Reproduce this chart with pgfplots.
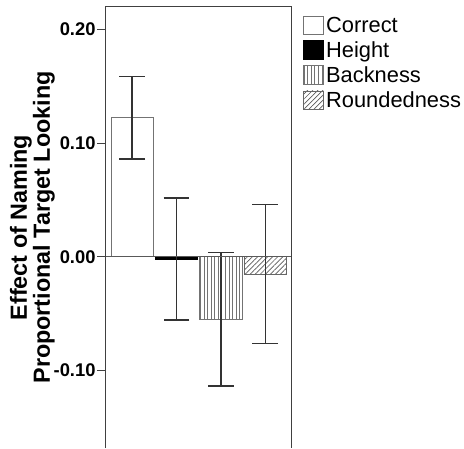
\documentclass[border=0pt]{standalone}
\usepackage{pgfplots}
\pgfplotsset{compat=1.18}
\usepackage{fontspec}
\setmainfont{Liberation Sans}
\usetikzlibrary{patterns.meta}
\pgfplotsset{
  myerr/.style={
    error bars/y dir=both, error bars/y explicit,
    error bars/error bar style={line width=1.4pt, black!80},
    error bars/error mark options={rotate=90, mark size=13pt, line width=1.4pt, black!80},
  }
}
\begin{document}
\begin{tikzpicture}
\begin{axis}[
  name=ax,
  anchor=south west, at={(0pt,0pt)},
  scale only axis, width=186.6pt, height=444pt,
  xmin=-0.59, xmax=3.59, ymin=-0.168, ymax=0.2195,
  axis line style={draw=none},
  clip=false,
  xtick=\empty,
  ytick={-0.1,0,0.1,0.2},
  ytick pos=left, tick align=outside, major tick length=9pt,
  tick style={black!75, line width=0.9pt},
  /pgf/number format/assume math mode=true,
  yticklabel style={font=\fontsize{18.5}{20}\selectfont\bfseries, xshift=2pt, /pgf/number format/.cd, fixed, fixed zerofill, precision=2},
  ylabel={Effect of Naming\\Proportional Target Looking},
  ylabel style={align=center, font=\fontsize{23.5}{23}\selectfont\bfseries, yshift=-8pt},
  ybar, bar width=42.5pt,
  legend style={at={(1,1)}, anchor=north west, xshift=11pt, yshift=-7pt, draw=none, fill=none,
    font=\fontsize{22}{22}\selectfont, row sep=3.8pt, inner sep=1pt},
  legend cell align=left,
]
\addplot[bar shift=0pt, draw=black!55, line width=0.8pt, fill=white, myerr,
  legend image code/.code={\draw[draw=black!55,line width=0.8pt,fill=white] (0pt,-9.5pt) rectangle (20pt,9.5pt);}]
  coordinates {(0,0.1223) +- (0,0.0363)};
\addlegendentry{Correct}
\addplot[bar shift=0pt, draw=black, line width=0.8pt, fill=black, myerr,
  legend image code/.code={\draw[draw=black,fill=black] (0pt,-9.5pt) rectangle (20pt,9.5pt);}]
  coordinates {(1,-0.0025) += (0,0.0542) -= (0,0.0529)};
\addlegendentry{Height}
\addplot[bar shift=0pt, draw=black!55, line width=0.8pt, pattern={Lines[angle=90,distance=3.6pt,line width=0.7pt]}, pattern color=black!55, myerr,
  legend image code/.code={\draw[draw=black!55,line width=0.8pt,pattern={Lines[angle=90,distance=3.6pt,line width=0.7pt]}, pattern color=black!55] (0pt,-9.5pt) rectangle (20pt,9.5pt);}]
  coordinates {(2,-0.0552) += (0,0.0589) -= (0,0.0584)};
\addlegendentry{Backness}
\addplot[bar shift=0pt, draw=black!60, line width=0.8pt, pattern={Lines[angle=45,distance=3.6pt,line width=0.7pt]}, pattern color=black!65, myerr,
  legend image code/.code={\draw[draw=black!60,line width=0.8pt,pattern={Lines[angle=45,distance=3.6pt,line width=0.7pt]}, pattern color=black!65] (0pt,-9.5pt) rectangle (20pt,9.5pt);}]
  coordinates {(3,-0.0153) += (0,0.0611) -= (0,0.0611)};
\addlegendentry{Roundedness}
\draw[black!65, line width=0.8pt] (axis cs:-0.59,0) -- (axis cs:3.59,0);
\draw[black!75, line width=1pt] (rel axis cs:0,0) -- (rel axis cs:0,1) -- (rel axis cs:1,1) -- (rel axis cs:1,0);
\end{axis}
\path[use as bounding box] (-106.7pt,0pt) rectangle (357.3pt,451pt);
\end{tikzpicture}
\end{document}
